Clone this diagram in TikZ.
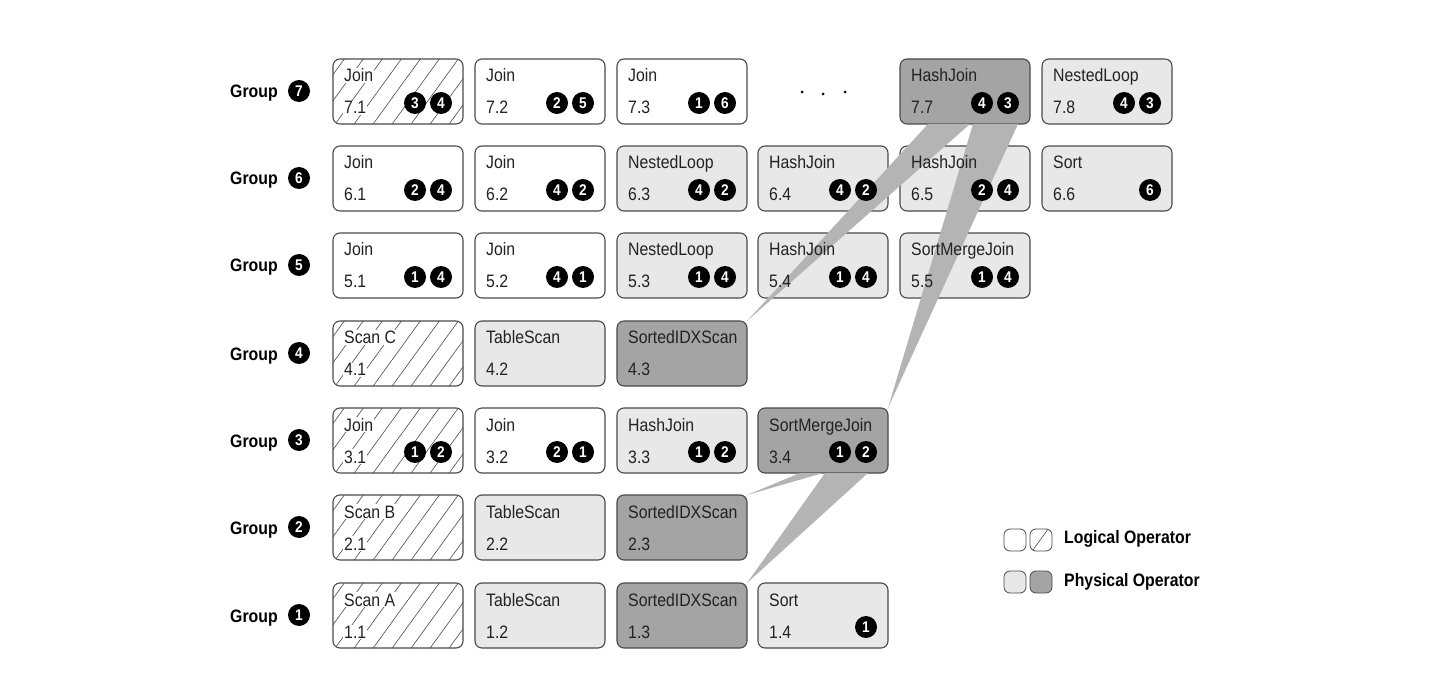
\documentclass[tikz,border=0pt]{standalone}
\usepackage{fontspec}
\setmainfont{Liberation Sans}[FakeStretch=0.88]
\usetikzlibrary{calc}
\pgfdeclarelayer{boxl}
\pgfdeclarelayer{wedgel}
\pgfsetlayers{boxl,wedgel,main}
\definecolor{bordc}{HTML}{4A4A4A}
\definecolor{lgray}{HTML}{E8E8E8}
\definecolor{dgray}{HTML}{A4A4A4}
\definecolor{wedgec}{HTML}{B4B4B4}
\definecolor{txtc}{HTML}{222222}
\tikzset{
  opbox/.style={draw=bordc, line width=1.1pt, rounded corners=7pt, minimum width=130pt,
    minimum height=65pt, anchor=north west, inner sep=0pt, outer sep=0pt},
  logic/.style={opbox, fill=white},
  hatchfill/.style={path picture={\foreach \i in {-5,...,8}{\draw[bordc, line width=0.6pt]
      ($(path picture bounding box.south west)+(\i*19,3)$) -- ++(58,-80);}}},
  hatched/.style={opbox, fill=white, hatchfill},
  phys/.style={opbox, fill=lgray},
  physd/.style={opbox, fill=dgray},
  lbl/.style={anchor=base west, inner sep=1pt, font=\fontsize{18}{20}\selectfont, text=txtc},
  hl/.style={fill=white},
  nl/.style={},
  num/.style={circle, fill=black, text=white, inner sep=0pt, minimum size=22pt,
    font=\fontsize{15.5}{15.5}\selectfont\bfseries},
  grp/.style={anchor=base west, inner sep=0pt, font=\fontsize{18}{20}\selectfont\bfseries},
  wedge/.style={fill=wedgec, draw=none},
  legbox/.style={draw=bordc, line width=0.8pt, rounded corners=6pt, minimum width=22pt,
    minimum height=22pt, inner sep=0pt, outer sep=0pt},
  dotc/.style={circle, fill=black, inner sep=0pt, minimum size=3pt},
}
% box: name, x, y, style, label, number, label style
\newcommand\opb[7]{%
  \begin{pgfonlayer}{boxl}\node[#4] (#1) at (#2,#3) {};\end{pgfonlayer}
  \node[lbl,#7] (#1l) at ($(#1.north west)+(10,23)$) {#5};
  \node[lbl,#7] (#1n) at ($(#1.north west)+(10,55)$) {#6};
}
\newcommand\cc[3]{%
  \node[num] (#1a) at ($(#1.north west)+(82,44)$) {#2};
  \node[num] (#1b) at ($(#1.north west)+(108,44)$) {#3};
}
\newcommand\co[2]{\node[num] (#1a) at ($(#1.north west)+(108,44)$) {#2};}
\newcommand\grlab[3]{%
  \node[grp] (g#1) at (230,#2+7) {Group};
  \node[num] (g#1c) at (299,#2) {#3};
}
\begin{document}
\begin{tikzpicture}[x=1pt,y=-1pt]
\useasboundingbox (0,0) rectangle (1440,684);
% group labels (row centres)
\grlab{7}{91}{7}
\grlab{6}{178}{6}
\grlab{5}{265}{5}
\grlab{4}{353}{4}
\grlab{3}{440}{3}
\grlab{2}{527}{2}
\grlab{1}{615}{1}
% row 7
\opb{b71}{333}{59}{hatched}{Join}{7.1}{hl}\cc{b71}{3}{4}
\opb{b72}{475}{59}{logic}{Join}{7.2}{nl}\cc{b72}{2}{5}
\opb{b73}{617}{59}{logic}{Join}{7.3}{nl}\cc{b73}{1}{6}
\node[dotc] (d1) at (802,92) {};
\node[dotc] (d2) at (823,94) {};
\node[dotc] (d3) at (845,92) {};
\opb{b77}{900}{59}{physd}{HashJoin}{7.7}{nl}\cc{b77}{4}{3}
\opb{b78}{1042}{59}{phys}{NestedLoop}{7.8}{nl}\cc{b78}{4}{3}
% row 6
\opb{b61}{333}{146}{logic}{Join}{6.1}{nl}\cc{b61}{2}{4}
\opb{b62}{475}{146}{logic}{Join}{6.2}{nl}\cc{b62}{4}{2}
\opb{b63}{617}{146}{phys}{NestedLoop}{6.3}{nl}\cc{b63}{4}{2}
\opb{b64}{758}{146}{phys}{HashJoin}{6.4}{nl}\cc{b64}{4}{2}
\opb{b65}{900}{146}{phys}{HashJoin}{6.5}{nl}\cc{b65}{2}{4}
\opb{b66}{1042}{146}{phys}{Sort}{6.6}{nl}\co{b66}{6}
% row 5
\opb{b51}{333}{233}{logic}{Join}{5.1}{nl}\cc{b51}{1}{4}
\opb{b52}{475}{233}{logic}{Join}{5.2}{nl}\cc{b52}{4}{1}
\opb{b53}{617}{233}{phys}{NestedLoop}{5.3}{nl}\cc{b53}{1}{4}
\opb{b54}{758}{233}{phys}{HashJoin}{5.4}{nl}\cc{b54}{1}{4}
\opb{b55}{900}{233}{phys}{SortMergeJoin}{5.5}{nl}\cc{b55}{1}{4}
% row 4
\opb{b41}{333}{321}{hatched}{Scan C}{4.1}{hl}
\opb{b42}{475}{321}{phys}{TableScan}{4.2}{nl}
\opb{b43}{617}{321}{physd}{SortedIDXScan}{4.3}{nl}
% row 3
\opb{b31}{333}{408}{hatched}{Join}{3.1}{hl}\cc{b31}{1}{2}
\opb{b32}{475}{408}{logic}{Join}{3.2}{nl}\cc{b32}{2}{1}
\opb{b33}{617}{408}{phys}{HashJoin}{3.3}{nl}\cc{b33}{1}{2}
\opb{b34}{758}{408}{physd}{SortMergeJoin}{3.4}{nl}\cc{b34}{1}{2}
% row 2
\opb{b21}{333}{495}{hatched}{Scan B}{2.1}{hl}
\opb{b22}{475}{495}{phys}{TableScan}{2.2}{nl}
\opb{b23}{617}{495}{physd}{SortedIDXScan}{2.3}{nl}
% row 1
\opb{b11}{333}{583}{hatched}{Scan A}{1.1}{hl}
\opb{b12}{475}{583}{phys}{TableScan}{1.2}{nl}
\opb{b13}{617}{583}{physd}{SortedIDXScan}{1.3}{nl}
\opb{b14}{758}{583}{phys}{Sort}{1.4}{nl}\co{b14}{1}
% wedges
\begin{pgfonlayer}{wedgel}
\fill[wedge] ($(b77.south west)+(28,0)$) -- ($(b77.south west)+(70,0)$) -- (b43.north east) -- cycle;
\fill[wedge] ($(b77.south west)+(73,0)$) -- ($(b77.south west)+(118,0)$) -- (b34.north east) -- cycle;
\fill[wedge] ($(b34.south west)+(42,0)$) -- ($(b34.south west)+(65,0)$) -- (b23.north east) -- cycle;
\fill[wedge] ($(b34.south west)+(67,0)$) -- ($(b34.south west)+(110,0)$) -- (b13.north east) -- cycle;
\end{pgfonlayer}
% legend
\node[legbox, fill=white] (lg1) at (1015,540) {};
\node[legbox, fill=white, hatchfill] (lg2) at (1041,540) {};
\node[grp, anchor=west] (lgt1) at (1064,539) {Logical Operator};
\node[legbox, fill=lgray] (lg3) at (1015,582) {};
\node[legbox, fill=dgray] (lg4) at (1041,582) {};
\node[grp, anchor=west] (lgt2) at (1064,582) {Physical Operator};
\end{tikzpicture}
\end{document}
